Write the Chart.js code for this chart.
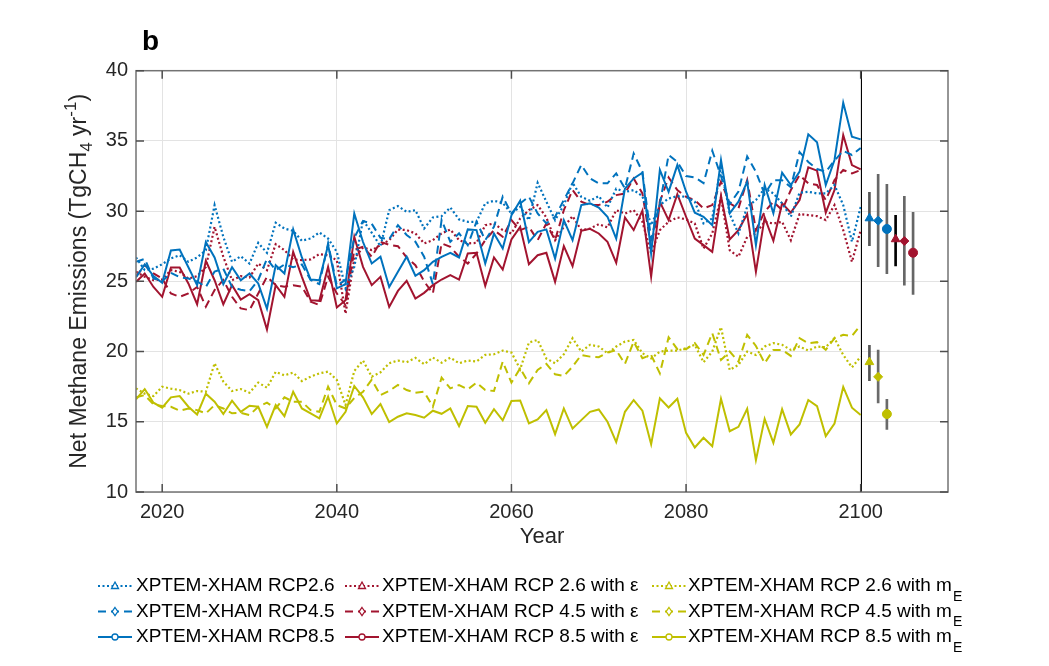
<!DOCTYPE html>
<html>
<head>
<meta charset="utf-8">
<script src="https://cdn.jsdelivr.net/npm/chart.js@4.4.0/dist/chart.umd.min.js"></script>
<style>
  html, body { margin: 0; padding: 0; background: #fff; }
  #wrap { width: 1049px; height: 666px; position: relative; }
</style>
</head>
<body>
<div id="wrap"><canvas id="chart"></canvas></div>
<script>
// ---- data ----
const years = [2017, 2018, 2019, 2020, 2021, 2022, 2023, 2024, 2025, 2026,
  2027, 2028, 2029, 2030, 2031, 2032, 2033, 2034, 2035, 2036,
  2037, 2038, 2039, 2040, 2041, 2042, 2043, 2044, 2045, 2046,
  2047, 2048, 2049, 2050, 2051, 2052, 2053, 2054, 2055, 2056,
  2057, 2058, 2059, 2060, 2061, 2062, 2063, 2064, 2065, 2066,
  2067, 2068, 2069, 2070, 2071, 2072, 2073, 2074, 2075, 2076,
  2077, 2078, 2079, 2080, 2081, 2082, 2083, 2084, 2085, 2086,
  2087, 2088, 2089, 2090, 2091, 2092, 2093, 2094, 2095, 2096,
  2097, 2098, 2099, 2100];

// XPTEM-XHAM (blue)
const xpRcp26 = [26.7, 25.8, 25.9, 26.22, 26.63, 26.86, 26.39, 26.7, 27.22, 30.43,
  28.17, 26.39, 26.79, 26.27, 27.74, 27.03, 29.17, 28.76, 28.6, 27.89,
  28.05, 28.48, 28.05, 27.1, 24.49, 26.03, 29.36, 28.46, 27.5, 30.07,
  30.36, 29.95, 30.07, 28.76, 29.55, 29.64, 30.26, 29.41, 29.24, 29.24,
  30.55, 30.74, 30.59, 29.83, 30.31, 29.36, 32.02, 30.67, 29.36, 30.43,
  32.02, 31.02, 30.74, 31.07, 30.26, 31.6, 31.36, 31.5, 31.07, 29.0,
  30.43, 30.9, 31.07, 31.02, 30.67, 29.12, 29.48, 33.28, 29.79, 28.41,
  30.31, 30.79, 31.62, 31.26, 30.55, 29.6, 31.31, 31.38, 31.26, 31.26,
  31.86, 30.43, 27.82, 30.31];
const xpRcp45 = [26.4, 26.6, 25.2, 25.0, 25.6, 25.3, 25.2, 25.0, 24.6, 25.7,
  25.9, 24.6, 24.4, 24.3, 25.1, 26.6, 25.8, 26.2, 26.0, 26.2,
  25.1, 24.8, 27.7, 24.7, 25.1, 28.1, 29.3, 29.1, 28.1, 28.0,
  29.0, 28.3, 27.82, 26.75, 24.8, 29.37, 27.82, 28.42, 27.58, 29.25,
  27.94, 28.89, 31.03, 29.84, 30.55, 31.03, 29.84, 29.13, 29.6, 30.79,
  31.98, 33.29, 32.34, 31.98, 31.98, 32.69, 31.62, 34.1, 32.8, 28.0,
  30.5, 34.0, 33.5, 32.5, 32.4, 32.0, 34.3, 32.5, 30.5, 31.4,
  33.9, 32.8, 31.2, 32.2, 32.2, 31.7, 34.2, 33.5, 33.0, 32.8,
  33.6, 34.3, 34.0, 34.5];
const xpRcp85 = [25.3, 26.2, 25.37, 24.9, 27.2, 27.27, 26.0, 24.73, 27.8, 26.7,
  24.8, 26.0, 25.07, 25.56, 24.85, 23.06, 26.15, 25.56, 28.7, 26.7,
  25.13, 25.08, 27.58, 24.5, 24.8, 29.83, 27.8, 26.27, 26.75, 24.6,
  25.68, 26.75, 25.4, 25.8, 26.39, 26.75, 27.03, 26.7, 28.7, 28.65,
  26.27, 28.4, 27.34, 29.7, 30.74, 27.8, 28.53, 28.7, 26.63, 29.36,
  27.93, 30.43, 30.55, 30.26, 29.6, 28.05, 31.6, 32.33, 32.74, 26.98,
  32.93, 31.38, 33.28, 31.38, 29.89, 29.6, 29.0, 33.64, 29.84, 30.67,
  32.1, 27.58, 31.86, 29.84, 32.74, 31.86, 32.81, 35.47, 34.9, 31.86,
  33.64, 37.72, 35.3, 35.11];

// with epsilon (red)
const epsRcp26 = [25.68, 25.32, 25.08, 25.13, 25.8, 25.68, 25.2, 25.37, 26.03, 28.88,
  26.75, 25.08, 25.37, 25.27, 26.27, 25.8, 27.65, 27.22, 26.56, 26.51,
  26.56, 26.94, 26.86, 26.5, 22.7, 26.63, 27.41, 27.22, 27.58, 27.93,
  28.69, 28.65, 28.41, 27.7, 27.93, 28.41, 28.69, 27.93, 27.7, 27.74,
  29.0, 29.12, 28.65, 28.41, 29.48, 30.07, 30.43, 29.55, 27.93, 28.88,
  29.64, 28.65, 28.76, 29.07, 28.84, 30.07, 29.83, 30.07, 29.24, 26.98,
  28.65, 29.24, 29.55, 29.41, 29.12, 27.34, 28.41, 31.02, 27.22, 26.75,
  28.17, 28.41, 29.24, 29.12, 29.24, 27.93, 29.79, 29.72, 29.64, 29.36,
  30.43, 28.65, 26.39, 28.65];
const epsRcp45 = [25.33, 26.16, 25.57, 25.2, 24.14, 23.9, 24.14, 24.6, 23.2, 24.38,
  25.1, 23.9, 23.07, 22.95, 24.14, 25.33, 24.73, 24.62, 24.73, 24.62,
  23.55, 23.31, 25.33, 24.14, 23.31, 27.23, 27.47, 26.75, 27.82, 27.6,
  27.5, 26.7, 26.15, 25.0, 24.13, 27.7, 27.46, 26.75, 26.27, 26.98,
  27.93, 28.65, 28.17, 29.36, 28.65, 28.88, 27.93, 29.12, 27.93, 30.07,
  31.5, 30.67, 30.43, 30.43, 30.67, 31.14, 31.26, 32.33, 31.26, 27.46,
  30.67, 32.4, 31.5, 31.02, 30.79, 30.19, 30.43, 32.1, 30.55, 30.19,
  32.21, 28.65, 29.96, 30.67, 30.07, 31.5, 32.57, 31.98, 31.86, 30.79,
  32.21, 32.93, 32.69, 32.93];
const epsRcp85 = [24.96, 25.56, 24.6, 23.9, 25.99, 25.99, 24.85, 23.37, 26.46, 25.08,
  23.37, 24.73, 23.7, 24.09, 23.66, 21.57, 24.73, 23.9, 27.1, 25.32,
  23.66, 23.61, 26.03, 23.14, 23.66, 28.17, 26.03, 24.73, 25.32, 23.18,
  24.32, 25.04, 23.78, 24.18, 24.73, 25.13, 25.44, 25.13, 26.98, 27.03,
  24.68, 26.7, 25.84, 27.98, 28.88, 26.22, 26.86, 27.03, 24.96, 27.51,
  26.08, 28.6, 28.74, 28.41, 27.81, 26.32, 29.55, 28.65, 30.03, 25.33,
  30.67, 29.36, 31.21, 29.6, 28.05, 27.58, 27.1, 31.07, 27.98, 28.65,
  29.79, 25.68, 29.55, 27.89, 30.55, 29.89, 30.79, 33.12, 32.88, 29.89,
  31.5, 35.42, 33.28, 32.97];

// with m_E (yellow)
const meRcp26 = [17.38, 17.0, 16.83, 17.5, 17.36, 17.26, 17.0, 17.19, 17.14, 19.17,
  17.86, 17.19, 17.33, 17.07, 17.79, 17.43, 18.55, 18.31, 18.5, 17.9,
  18.21, 18.45, 18.57, 17.98, 16.19, 18.62, 19.36, 18.21, 18.52, 19.17,
  19.36, 19.24, 19.55, 19.1, 19.57, 19.21, 19.57, 19.17, 19.36, 19.29,
  19.76, 19.81, 20.07, 19.93, 18.74, 20.64, 20.83, 19.5, 19.17, 19.81,
  20.95, 20.0, 20.48, 20.36, 19.88, 20.36, 20.71, 20.83, 19.88, 19.52,
  20.0, 20.07, 20.07, 20.24, 20.48, 19.24, 20.0, 21.74, 18.69, 19.05,
  20.0, 19.76, 20.36, 20.6, 20.48, 20.12, 20.36, 20.07, 20.36, 20.31,
  20.95, 19.76, 18.88, 19.64];
const meRcp45 = [16.74, 16.9, 16.24, 16.12, 16.07, 15.79, 15.95, 15.83, 15.6, 16.19,
  15.95, 15.6, 15.64, 15.48, 16.07, 16.36, 15.95, 16.74, 16.43, 16.43,
  15.83, 15.71, 17.5, 16.19, 15.95, 16.7, 17.14, 18.0, 16.9, 17.2,
  17.62, 17.26, 17.07, 17.14, 16.07, 18.14, 17.38, 17.62, 17.31, 17.79,
  17.26, 17.19, 19.29, 17.79, 18.81, 17.74, 18.69, 19.12, 18.38, 18.26,
  18.93, 19.76, 19.64, 19.6, 19.93, 20.1, 19.12, 20.71, 19.52, 19.76,
  18.45, 21.02, 20.17, 20.17, 20.6, 19.76, 21.31, 19.4, 20.0, 19.29,
  21.19, 20.4, 19.17, 20.12, 20.12, 19.69, 20.95, 20.6, 20.67, 20.12,
  20.95, 21.19, 21.12, 21.9];
const meRcp85 = [16.6, 17.33, 16.36, 16.0, 16.74, 16.83, 16.07, 15.52, 17.0, 16.43,
  15.55, 16.5, 15.71, 16.14, 16.07, 14.64, 16.19, 15.4, 17.14, 15.95,
  15.6, 15.24, 16.79, 14.88, 15.71, 17.55, 16.74, 15.55, 16.26, 14.98,
  15.36, 15.6, 15.48, 15.29, 15.79, 15.57, 15.95, 14.69, 16.12, 16.07,
  14.93, 15.9, 15.1, 16.48, 16.52, 14.88, 15.17, 15.83, 14.12, 15.95,
  14.52, 15.12, 15.71, 15.88, 15.0, 13.55, 15.71, 16.55, 15.79, 13.4,
  16.67, 16.02, 16.64, 14.21, 13.17, 13.86, 13.26, 16.64, 14.33, 14.64,
  15.93, 12.26, 15.21, 13.5, 15.9, 14.1, 14.81, 16.55, 16.12, 13.98,
  14.88, 17.48, 16.0, 15.48];

// end-of-century summary points with ranges
const summaryX = [2101, 2102, 2103, 2104, 2105, 2106, 2101, 2102, 2103];
const summaryMid = [29.49, 29.32, 28.73, 28.0, 27.87, 27.04, 19.25, 18.2, 15.55];
const summaryLow = [27.54, 26.04, 25.54, 26.1, 24.72, 24.07, 17.92, 16.35, 14.46];
const summaryHigh = [31.34, 32.62, 31.91, 29.7, 31.05, 29.91, 20.44, 20.1, 16.6];

const xTicks = [2020, 2040, 2060, 2080, 2100];
const yTicks = [10, 15, 20, 25, 30, 35, 40];
const splitYear = 2100;

// ---- styling ----
const BLUE = '#0072BD', RED = '#A2142F', YEL = '#BFBF00';
const DOT = [2, 2.5], DASH = [8, 5], SOLID = [];
const FONT = '"Liberation Sans", Arial, Helvetica, sans-serif';

function pts(vals) {
  return years.map((yr, i) => ({ x: yr, y: vals[i] }));
}

function series(label, vals, color, dash) {
  return {
    label, data: pts(vals), borderColor: color, backgroundColor: color,
    borderWidth: dash === DOT ? 2.2 : 2, borderDash: dash, pointRadius: 0, tension: 0, fill: false, order: 5
  };
}

const markColors = [BLUE, BLUE, BLUE, RED, RED, RED, YEL, YEL, YEL];
const markStyles = ['triangle', 'rectRot', 'circle', 'triangle', 'rectRot', 'circle', 'triangle', 'rectRot', 'circle'];
const markRadius = [5, 4.5, 4.5, 5, 4.5, 4.5, 5, 4.5, 4.5];
const barColors = ['#555', '#666', '#666', '#000', '#666', '#666', '#555', '#6a6a6a', '#6a6a6a'];

const datasets = [
  series('XPTEM-XHAM RCP2.6', xpRcp26, BLUE, DOT),
  series('XPTEM-XHAM RCP4.5', xpRcp45, BLUE, DASH),
  series('XPTEM-XHAM RCP8.5', xpRcp85, BLUE, SOLID),
  series('XPTEM-XHAM RCP 2.6 with ε', epsRcp26, RED, DOT),
  series('XPTEM-XHAM RCP 4.5 with ε', epsRcp45, RED, DASH),
  series('XPTEM-XHAM RCP 8.5 with ε', epsRcp85, RED, SOLID),
  series('XPTEM-XHAM RCP 2.6 with mE', meRcp26, YEL, DOT),
  series('XPTEM-XHAM RCP 4.5 with mE', meRcp45, YEL, DASH),
  series('XPTEM-XHAM RCP 8.5 with mE', meRcp85, YEL, SOLID),
  {
    type: 'bar', label: 'range',
    data: summaryX.map((x, i) => ({ x: x, y: [summaryLow[i], summaryHigh[i]] })),
    backgroundColor: barColors, borderWidth: 0, barThickness: 2, grouped: false, order: 3
  },
  {
    label: 'summary',
    data: summaryX.map((x, i) => ({ x: x, y: summaryMid[i] })),
    showLine: false, pointStyle: markStyles, pointRadius: markRadius,
    pointBackgroundColor: markColors, pointBorderColor: markColors, pointBorderWidth: 1, order: 1
  }
];

// legend entries: [text, subscript, color, dash, marker]
const legendCols = [
  { lineX: 98, textX: 136, items: [
    ['XPTEM-XHAM RCP2.6', '', BLUE, DOT, 'tri'],
    ['XPTEM-XHAM RCP4.5', '', BLUE, DASH, 'dia'],
    ['XPTEM-XHAM RCP8.5', '', BLUE, SOLID, 'circ']] },
  { lineX: 345, textX: 382, items: [
    ['XPTEM-XHAM RCP 2.6 with ε', '', RED, DOT, 'tri'],
    ['XPTEM-XHAM RCP 4.5 with ε', '', RED, DASH, 'dia'],
    ['XPTEM-XHAM RCP 8.5 with ε', '', RED, SOLID, 'circ']] },
  { lineX: 652, textX: 688, items: [
    ['XPTEM-XHAM RCP 2.6 with m', 'E', YEL, DOT, 'tri'],
    ['XPTEM-XHAM RCP 4.5 with m', 'E', YEL, DASH, 'dia'],
    ['XPTEM-XHAM RCP 8.5 with m', 'E', YEL, SOLID, 'circ']] }
];
const legendRowsY = [586, 611.5, 637];

function drawMarker(ctx, kind, x, y, color) {
  ctx.save();
  ctx.strokeStyle = color;
  ctx.fillStyle = '#fff';
  ctx.lineWidth = 1.3;
  ctx.setLineDash([]);
  ctx.beginPath();
  if (kind === 'tri') {
    ctx.moveTo(x, y - 4); ctx.lineTo(x + 3.5, y + 2.5); ctx.lineTo(x - 3.5, y + 2.5); ctx.closePath();
  } else if (kind === 'dia') {
    ctx.moveTo(x, y - 4); ctx.lineTo(x + 2.8, y); ctx.lineTo(x, y + 4); ctx.lineTo(x - 2.8, y); ctx.closePath();
  } else {
    ctx.arc(x, y, 3, 0, Math.PI * 2);
  }
  ctx.fill();
  ctx.stroke();
  ctx.restore();
}

const decor = {
  id: 'decor',
  afterDatasetsDraw(chart) {
    const { ctx, chartArea: a, scales: { x, y } } = chart;
    ctx.save();
    // divider at 2100
    const sx = Math.round(x.getPixelForValue(splitYear)) + 0.5;
    ctx.strokeStyle = '#000';
    ctx.lineWidth = 1;
    ctx.beginPath();
    ctx.moveTo(sx, a.top); ctx.lineTo(sx, a.bottom);
    ctx.stroke();

    // axes box
    ctx.strokeStyle = '#737373';
    ctx.lineWidth = 1.5;
    ctx.strokeRect(a.left, a.top, a.right - a.left, a.bottom - a.top);

    // inward ticks
    ctx.strokeStyle = '#4d4d4d';
    ctx.lineWidth = 1.5;
    ctx.beginPath();
    xTicks.forEach(v => {
      const px = x.getPixelForValue(v);
      ctx.moveTo(px, a.bottom); ctx.lineTo(px, a.bottom - 8);
      ctx.moveTo(px, a.top); ctx.lineTo(px, a.top + 8);
    });
    yTicks.forEach(v => {
      const py = y.getPixelForValue(v);
      ctx.moveTo(a.left, py); ctx.lineTo(a.left + 8, py);
      ctx.moveTo(a.right, py); ctx.lineTo(a.right - 8, py);
    });
    ctx.stroke();
    ctx.restore();
  },
  afterDraw(chart) {
    const { ctx, chartArea: a } = chart;
    ctx.save();

    // panel letter
    ctx.fillStyle = '#000';
    ctx.font = 'bold 28px ' + FONT;
    ctx.textAlign = 'left';
    ctx.textBaseline = 'alphabetic';
    ctx.fillText('b', 142, 50);

    // x title
    ctx.fillStyle = '#262626';
    ctx.font = '22px ' + FONT;
    ctx.textAlign = 'center';
    ctx.textBaseline = 'middle';
    ctx.fillText('Year', (a.left + a.right) / 2, 537);

    // y title with sub/superscripts
    const parts = [
      { t: 'Net Methane Emissions (TgCH', f: 23, dy: 0 },
      { t: '4', f: 17, dy: 6 },
      { t: ' yr', f: 23, dy: 0 },
      { t: '-1', f: 17, dy: -10 },
      { t: ')', f: 23, dy: 0 }
    ];
    let total = 0;
    parts.forEach(p => { ctx.font = p.f + 'px ' + FONT; p.w = ctx.measureText(p.t).width; total += p.w; });
    ctx.translate(79, (a.top + a.bottom) / 2);
    ctx.rotate(-Math.PI / 2);
    ctx.textAlign = 'left';
    ctx.textBaseline = 'alphabetic';
    let cx = -total / 2;
    parts.forEach(p => {
      ctx.font = p.f + 'px ' + FONT;
      ctx.fillText(p.t, cx, 7 + p.dy);
      cx += p.w;
    });
    ctx.setTransform(1, 0, 0, 1, 0, 0);

    // legend
    legendCols.forEach(col => {
      col.items.forEach((it, r) => {
        const ly = legendRowsY[r];
        ctx.strokeStyle = it[2];
        ctx.lineWidth = 2;
        ctx.setLineDash(it[3]);
        ctx.beginPath();
        ctx.moveTo(col.lineX, ly); ctx.lineTo(col.lineX + 34, ly);
        ctx.stroke();
        ctx.setLineDash([]);
        drawMarker(ctx, it[4], col.lineX + 17, ly, it[2]);
        ctx.fillStyle = '#000';
        ctx.font = '19px ' + FONT;
        ctx.textAlign = 'left';
        ctx.textBaseline = 'middle';
        ctx.fillText(it[0], col.textX, ly);
        if (it[1]) {
          const w = ctx.measureText(it[0]).width;
          ctx.font = '14px ' + FONT;
          ctx.fillText(it[1], col.textX + w + 1, ly + 11);
        }
      });
    });
    ctx.restore();
  }
};

new Chart(document.getElementById('chart'), {
  type: 'line',
  data: { datasets },
  plugins: [decor],
  options: {
    responsive: true,
    maintainAspectRatio: false,
    animation: false,
    layout: { padding: { left: 0, top: 70.7, right: 101, bottom: 0 } },
    plugins: { legend: { display: false }, tooltip: { enabled: false } },
    scales: {
      x: {
        type: 'linear', min: 2017, max: 2110, offset: false,
        afterFit: s => { s.height = 174; },
        afterBuildTicks: s => { s.ticks = xTicks.map(v => ({ value: v })); },
        grid: { color: '#e3e3e3', lineWidth: 1, drawTicks: false, offset: false },
        border: { display: false },
        ticks: { color: '#262626', font: { family: FONT, size: 20 }, padding: 8, maxRotation: 0,
          callback: v => String(v) }
      },
      y: {
        type: 'linear', min: 10, max: 40,
        afterFit: s => { s.width = 136; },
        afterBuildTicks: s => { s.ticks = yTicks.map(v => ({ value: v })); },
        grid: { color: '#e3e3e3', lineWidth: 1, drawTicks: false },
        border: { display: false },
        ticks: { color: '#262626', font: { family: FONT, size: 20 }, padding: 8,
          callback: v => String(v) }
      }
    }
  }
});
</script>
</body>
</html>
